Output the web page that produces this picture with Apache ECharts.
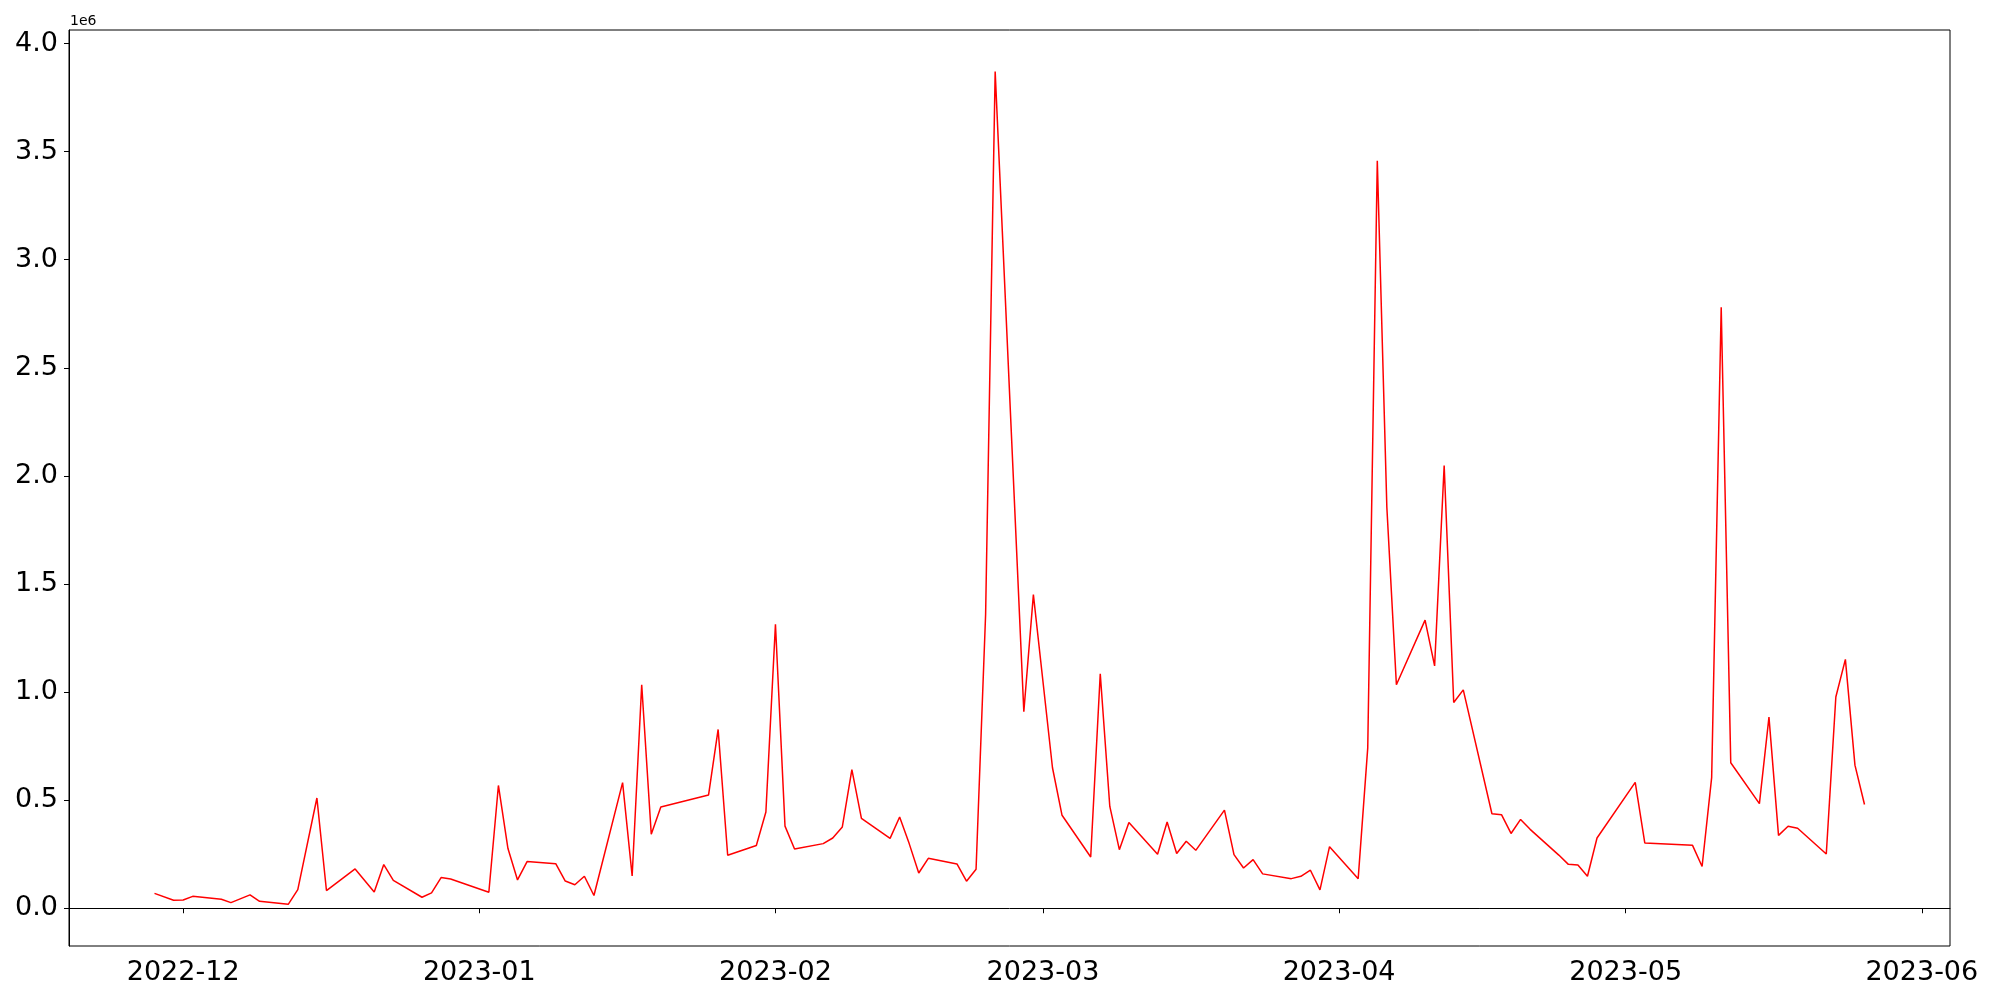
<!DOCTYPE html>
<html>
<head>
<meta charset="utf-8">
<script src="https://cdn.jsdelivr.net/npm/echarts@6/dist/echarts.min.js"></script>
<style>
html,body{margin:0;padding:0;background:#fff;}
#chart{width:2000px;height:1000px;}
</style>
</head>
<body>
<div id="chart"></div>
<script>
const dates = [
'2022-11-28','2022-11-30','2022-12-01','2022-12-02','2022-12-05','2022-12-06','2022-12-08','2022-12-09','2022-12-12','2022-12-13',
'2022-12-15','2022-12-16','2022-12-19','2022-12-21','2022-12-22','2022-12-23','2022-12-26','2022-12-27','2022-12-28','2022-12-29',
'2023-01-02','2023-01-03','2023-01-04','2023-01-05','2023-01-06','2023-01-09','2023-01-10','2023-01-11','2023-01-12','2023-01-13',
'2023-01-16','2023-01-17','2023-01-18','2023-01-19','2023-01-20','2023-01-25','2023-01-26','2023-01-27','2023-01-30','2023-01-31',
'2023-02-01','2023-02-02','2023-02-03','2023-02-06','2023-02-07','2023-02-08','2023-02-09','2023-02-10','2023-02-13','2023-02-14',
'2023-02-15','2023-02-16','2023-02-17','2023-02-20','2023-02-21','2023-02-22','2023-02-23','2023-02-24','2023-02-27','2023-02-28',
'2023-03-02','2023-03-03','2023-03-06','2023-03-07','2023-03-08','2023-03-09','2023-03-10','2023-03-13','2023-03-14','2023-03-15',
'2023-03-16','2023-03-17','2023-03-20','2023-03-21','2023-03-22','2023-03-23','2023-03-24','2023-03-27','2023-03-28','2023-03-29',
'2023-03-30','2023-03-31','2023-04-03','2023-04-04','2023-04-05','2023-04-06','2023-04-07','2023-04-10','2023-04-11','2023-04-12',
'2023-04-13','2023-04-14','2023-04-17','2023-04-18','2023-04-19','2023-04-20','2023-04-21','2023-04-24','2023-04-25','2023-04-26',
'2023-04-27','2023-04-28','2023-05-02','2023-05-03','2023-05-08','2023-05-09','2023-05-10','2023-05-11','2023-05-12','2023-05-15',
'2023-05-16','2023-05-17','2023-05-18','2023-05-19','2023-05-22','2023-05-23','2023-05-24','2023-05-25','2023-05-26'
];
const values = [
69000,37000,38000,55000,42000,26000,62000,32000,18000,86000,
510000,82000,182000,75000,202000,129000,51000,71000,142000,135000,
74000,568000,276000,131000,216000,206000,126000,109000,148000,59000,
581000,149000,1034000,342000,468000,524000,827000,245000,290000,445000,
1314000,380000,274000,299000,325000,376000,641000,416000,323000,422000,
299000,163000,231000,205000,125000,180000,1360000,3870000,909000,1451000,
650000,430000,237000,1085000,471000,271000,397000,250000,399000,253000,
310000,268000,454000,248000,186000,225000,159000,137000,148000,176000,
85000,285000,137000,742000,3458000,1855000,1034000,1333000,1121000,2048000,
952000,1010000,437000,433000,346000,411000,365000,246000,203000,200000,
148000,325000,582000,302000,291000,193000,604000,2780000,673000,484000,
884000,337000,379000,370000,251000,977000,1151000,662000,480000
];
const monthTicks = ['2022-12-01','2023-01-01','2023-02-01','2023-03-01','2023-04-01','2023-05-01','2023-06-01'];
const yTicks = [0,500000,1000000,1500000,2000000,2500000,3000000,3500000,4000000];

function ts(s){const p=s.split('-').map(Number);return Date.UTC(p[0],p[1]-1,p[2]);}
const data = dates.map((d,i)=>[ts(d), values[i]]);
const xs = data.map(d=>d[0]);
const xLo = Math.min(...xs), xHi = Math.max(...xs), xSpan = xHi-xLo;
const yLo = Math.min(...values), yHi = Math.max(...values), ySpan = yHi-yLo;
const font = 'DejaVu Sans';

const chart = echarts.init(document.getElementById('chart'), null, {renderer:'canvas'});
chart.setOption({
  animation:false,
  backgroundColor:'#ffffff',
  grid:{left:69,right:50,top:30,bottom:54,show:true,borderColor:'#000',borderWidth:1,backgroundColor:'transparent'},
  xAxis:{
    type:'value',
    min:xLo-0.05*xSpan, max:xHi+0.05*xSpan,
    splitLine:{show:false},
    axisLine:{show:true,lineStyle:{color:'#000',width:1}},
    axisTick:{show:true,inside:false,length:5,lineStyle:{color:'#000'},customValues:monthTicks.map(ts)},
    axisLabel:{
      customValues:monthTicks.map(ts),
      showMinLabel:true, showMaxLabel:true,
      margin:13,color:'#000',fontSize:27,fontFamily:font,
      formatter:function(v){const d=new Date(v);return d.getUTCFullYear()+'-'+String(d.getUTCMonth()+1).padStart(2,'0');}
    }
  },
  yAxis:{
    type:'value',
    min:yLo-0.05*ySpan, max:yHi+0.05*ySpan,
    splitLine:{show:false},
    axisLine:{show:true,lineStyle:{color:'#000',width:1}},
    axisTick:{show:true,inside:false,length:5,lineStyle:{color:'#000'},customValues:yTicks},
    axisLabel:{
      customValues:yTicks,
      margin:11,color:'#000',fontSize:27,fontFamily:font,
      formatter:function(v){return (v/1e6).toFixed(1);}
    }
  },
  graphic:[{type:'text',left:70,top:14,style:{text:'1e6',fontSize:14,fontFamily:font,fill:'#000'}}],
  series:[{
    type:'line',
    data:data,
    showSymbol:false,
    lineStyle:{color:'#ff0000',width:1.5},
    itemStyle:{color:'#ff0000'}
  }]
});
</script>
</body>
</html>
